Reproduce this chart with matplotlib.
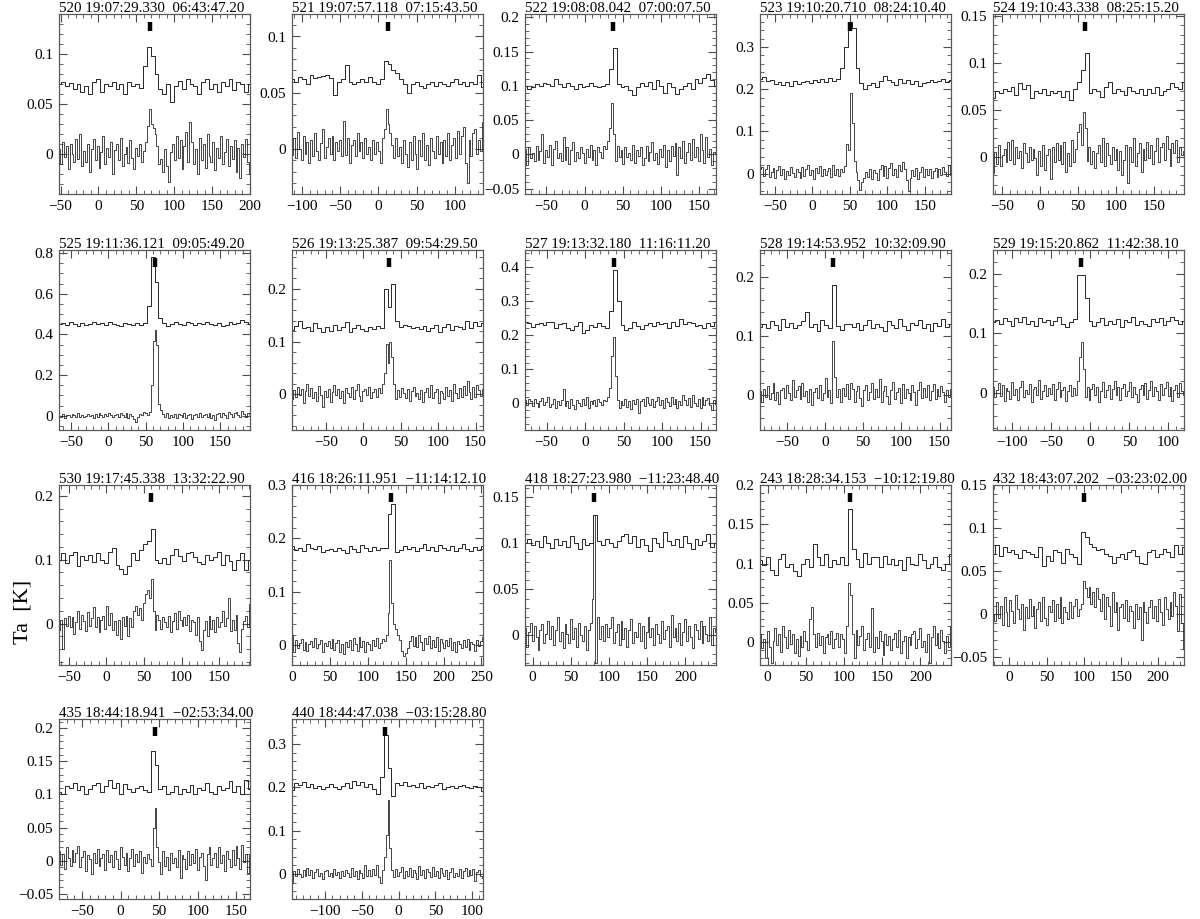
import numpy as np
import matplotlib
matplotlib.use('Agg')
import matplotlib.pyplot as plt
from matplotlib.ticker import MultipleLocator, AutoMinorLocator, FuncFormatter
import matplotlib.transforms as mtransforms

plt.rcParams['font.family'] = ['Liberation Serif', 'DejaVu Serif']

# panel titles (source, RA, Dec)
titles = ['520 19:07:29.330  06:43:47.20', '521 19:07:57.118  07:15:43.50',
          '522 19:08:08.042  07:00:07.50', '523 19:10:20.710  08:24:10.40',
          '524 19:10:43.338  08:25:15.20', '525 19:11:36.121  09:05:49.20',
          '526 19:13:25.387  09:54:29.50', '527 19:13:32.180  11:16:11.20',
          '528 19:14:53.952  10:32:09.90', '529 19:15:20.862  11:42:38.10',
          '530 19:17:45.338  13:32:22.90', '416 18:26:11.951  \u221211:14:12.10',
          '418 18:27:23.980  \u221211:23:48.40', '243 18:28:34.153  \u221210:12:19.80',
          '432 18:43:07.202  \u221203:23:02.00', '435 18:44:18.941  \u221202:53:34.00',
          '440 18:44:47.038  \u221203:15:28.80']

xlims = [(-52, 200), (-113, 137), (-78, 172), (-70, 185), (-62, 190),
         (-66, 190), (-95, 160), (-78, 170), (-85, 165), (-125, 120),
         (-63, 191), (0, 252), (-10, 240), (-10, 240), (-22, 235),
         (-80, 168), (-145, 115)]
ylims = [(-0.04, 0.14), (-0.04, 0.12), (-0.058, 0.205), (-0.048, 0.378), (-0.04, 0.152),
         (-0.07, 0.815), (-0.068, 0.274), (-0.078, 0.45), (-0.06, 0.245), (-0.063, 0.24),
         (-0.065, 0.217), (-0.037, 0.3), (-0.032, 0.163), (-0.029, 0.2), (-0.059, 0.15),
         (-0.058, 0.214), (-0.058, 0.358)]
ysteps = [0.05, 0.05, 0.05, 0.1, 0.05, 0.2, 0.1, 0.1, 0.1, 0.1,
          0.1, 0.1, 0.05, 0.05, 0.05, 0.05, 0.1]
marker_v = [68, 13, 37, 50, 60, 62, 35, 37, 10, -12, 60, 131, 80, 108, 100, 45, -18]

# lower spectra (fine resolution), mK
lower = [
"""5 -10 12 -3 8 -15 10 0 -8 15
-5 20 -12 3 -8 10 -18 5 15 -6
8 -14 2 18 -10 6 -3 12 -20 4
10 -6 16 -12 0 7 -9 14 -4 -15
6 -2 10 -8 3 12 28 45 30 26
20 8 -10 -5 -18 5 -12 -28 2 10
-6 18 -4 14 -15 8 22 -8 32 12
-10 5 -20 16 -6 10 -14 20 -2 -8
12 -16 6 -4 18 -10 2 15 -12 8
-5 14 -18 6 -24 10 -3 15 -8 -20""",
"""-5 10 -8 15 0 -10 12 -4 6 -12
8 -6 14 -2 -10 5 18 -8 2 10
-4 12 -10 6 -2 8 -6 25 -5 10
-12 4 8 -6 14 -2 6 -8 10 -4
2 -10 8 -4 6 -2 -12 10 18 36
22 14 4 -8 10 -6 2 -12 8 -4
-16 6 -10 12 -4 -18 8 -6 14 -10
4 -14 10 -2 -8 12 -4 6 -12 8
-6 14 -10 4 10 -8 16 -4 12 20
-12 -30 8 -6 14 18 -4 8 -2 24""",
"""8 -15 10 -5 2 -10 12 -8 5 30
-12 6 -4 14 -16 8 20 -6 2 -10
25 -8 10 -14 6 18 -10 4 -6 10
2 -12 8 -4 14 -8 6 -16 10 4
-6 12 8 20 38 75 30 -10 12 -4
6 -14 10 -4 2 -8 14 -12 6 -2
10 -16 -6 12 -10 4 18 -8 2 -14
8 -4 14 -18 6 -10 12 -2 16 -30
10 -6 20 -12 4 16 -8 22 -4 10
-10 30 6 -12 26 -4 8 -16 4 0""",
"""10 15 -5 12 20 -8 5 14 -10 8
18 -2 10 -12 6 -4 15 2 -8 12
4 -10 16 -6 10 20 -4 8 -12 14
2 18 -6 10 -2 6 14 -8 20 -4
12 -6 10 4 18 70 55 190 120 30
5 -15 -38 -20 -10 5 -8 10 -12 8
2 -14 12 20 -6 18 -10 14 25 -4
10 -8 20 6 28 12 -15 -40 -10 8
-6 14 -12 4 16 -8 10 -4 12 -10
6 14 -8 10 -2 16 4 -6 20 -2""",
"""-18 5 -8 12 -10 2 8 -6 15 -4
18 -8 10 -2 6 -12 14 4 -6 10
-4 8 -2 -20 6 -10 12 -14 2 8
-24 10 -6 14 -4 12 -8 16 -16 4
-10 18 -6 8 26 35 12 48 30 -5
10 -8 6 -12 4 12 -6 20 -10 14
2 -8 10 -4 8 -14 6 -20 -4 12
-28 10 -6 20 -10 4 14 -16 8 -4
16 -2 12 -8 6 20 -6 10 14 -4
22 8 -10 14 4 18 -6 10 2 6""",
"""0 -5 8 -10 4 6 -8 10 2 -6
12 -4 6 -8 0 10 -2 4 -10 8
-4 12 6 -6 10 -2 14 4 -8 6
10 -4 16 2 -6 12 -10 8 0 -14
-30 -8 10 4 18 12 6 20 150 370
420 350 60 30 10 -8 12 -10 6 -4
8 -12 10 4 -6 12 -10 2 8 -16
6 10 -4 14 -8 2 10 -6 16 -12
4 -20 8 12 -6 16 2 -10 18 8
-4 14 20 6 -8 24 10 -4 16 8""",
"""-10 8 -6 14 -2 10 -16 6 20 -4
12 -8 4 -12 16 -2 -24 6 -6 10
-14 4 18 -2 10 -8 6 -16 12 2
-6 14 -10 8 20 -4 -12 6 10 -2
14 -8 4 10 -6 12 2 20 40 95
60 100 70 20 -10 8 -6 12 2 -8
10 -12 6 14 -4 2 -10 8 -14 4
12 -6 18 -8 4 10 -16 6 2 -10
14 -4 8 -12 20 2 -8 12 -6 16
-2 26 4 -10 14 -6 18 8 -4 10""",
"""10 -4 12 6 -8 14 2 -10 8 16
-6 4 20 -10 -2 12 -14 8 -4 10
42 -8 6 -12 14 -4 -16 10 2 -8
14 -6 18 -12 6 -2 10 -8 14 4
-6 10 6 20 45 140 195 80 10 -14
8 -4 14 -10 6 -16 10 -2 12 -28
6 14 -8 18 2 -6 12 -10 8 20
-4 10 -12 16 4 -8 20 -2 12 -14
8 -6 26 10 -4 16 -10 24 2 -8
14 -12 20 -4 10 16 -6 -20 10 -2""",
"""6 -12 10 -4 14 -8 2 20 -10 4
-16 8 12 -6 16 2 -10 24 -4 8
14 -8 20 -2 6 -12 10 -18 4 12
-6 16 -10 2 28 -4 8 -14 90 30
-4 10 -12 12 -2 18 -8 20 10 -12
6 14 -6 -20 8 16 -10 4 20 -8
10 -4 26 -12 6 14 -2 -16 8 22
-8 4 12 -14 18 -6 10 2 -10 16
4 -18 8 22 -6 12 -4 16 -10 6
18 -8 10 -2 14 4 -12 8 -4 10""",
"""10 -8 4 16 -6 12 -14 8 2 -10
18 -4 6 -12 10 20 -8 4 -2 14
-16 6 10 -4 22 -10 2 12 -6 8
-2 14 -12 6 18 -8 4 10 -14 2
12 -6 8 -4 20 60 85 40 -8 10
-12 6 14 -4 10 -16 2 18 -8 4
12 -10 6 20 -4 10 -12 8 14 -6
2 18 -8 10 -2 -16 6 12 -4 16
-10 4 20 -6 10 2 -12 14 -4 8
18 -6 10 -14 4 12 -8 16 2 -4""",
"""-10 5 -40 8 -4 12 -6 10 -16 2
20 -8 14 4 -12 18 -4 8 26 -6
10 -14 6 12 -8 28 -2 16 -10 4
-18 6 -24 10 -4 12 -20 8 -6 20
28 14 24 6 32 46 52 40 70 20
-10 14 6 -8 10 2 -6 12 -14 4
16 -8 20 6 -4 10 -2 14 -12 6
2 -18 10 -28 -42 -10 4 -20 12 -8
6 -14 10 -6 2 20 -4 8 40 -12
6 -10 14 -30 -44 -8 4 12 -6 30""",
"""20 -12 10 -6 4 12 -8 6 -10 2
8 -4 14 -6 2 10 -12 4 -2 8
-6 12 -8 4 10 -12 2 -16 6 -4
10 -8 14 2 -10 16 -4 8 -12 6
2 -8 10 -2 14 -6 4 12 8 20
60 160 80 40 30 20 10 -10 -20 -14
-6 8 18 -2 16 -4 20 6 -8 14
2 18 -6 10 -4 16 -10 12 4 -6
10 -2 14 -8 6 -12 8 2 -6 10
-4 12 -8 6 2 -10 10 -2 8 16""",
"""8 -12 4 14 -6 10 -2 -16 6 12
-8 2 16 -4 10 -10 6 20 -6 4
-14 12 2 -8 18 -4 8 -12 14 0
-6 10 -16 6 14 40 130 -30 20 -4
10 -6 12 -2 8 20 -8 4 12 -10
16 -4 8 -12 6 18 -8 4 -2 14
-6 10 -14 4 20 -2 8 -10 12 2
-8 16 -4 6 10 -12 22 -2 8 -6
14 -10 4 18 -6 10 -2 -14 12 6
-4 16 -8 10 2 -6 20 -10 8 4""",
"""10 -8 4 -20 14 -6 -26 2 18 -4
10 -12 20 6 -8 16 -2 10 -14 4
-18 8 -6 14 2 -10 30 45 10 -6
12 -4 8 -14 6 10 -2 14 -8 4
12 -6 10 4 -14 20 75 60 10 -20
16 -4 8 20 -10 4 12 -6 44 -12
6 -8 14 2 -16 10 -4 8 -10 4
12 -6 16 -14 2 8 -20 6 -4 10
14 -8 4 18 -6 2 -12 10 -26 6
20 -4 12 -8 16 2 -14 8 -6 20""",
"""0 -8 14 -4 10 -12 20 2 -14 16
4 -10 22 6 -6 12 -18 8 -4 18
-2 10 -16 6 14 -8 20 -4 -12 10
2 16 -8 12 -4 20 -10 8 2 -6
14 -4 10 18 -2 6 12 38 30 20
32 12 26 8 30 18 4 24 -6 20
10 -14 26 2 14 -18 8 12 -4 16
-8 10 4 -16 12 -6 8 -30 14 2
-10 8 16 -4 10 -8 18 2 -12 20
6 -6 14 -2 26 10 -20 24 -10 -40""",
"""14 -6 10 -12 20 4 -8 16 -2 12
22 -10 6 14 -16 8 2 -20 12 -4
18 -8 4 10 -14 16 -2 8 -10 14
2 -12 20 6 -6 12 -16 4 18 -8
10 -2 14 -18 6 -4 10 2 -8 50
80 20 -2 -20 14 -8 6 -14 12 -4
4 -10 16 -26 8 2 -12 14 -6 10
-4 18 -14 6 12 -8 -30 10 20 -6
4 12 -10 20 -4 8 -16 14 2 -10
16 -6 22 4 -12 24 -2 10 -18 8""",
"""-20 6 -4 12 0 -8 10 -6 14 -2
8 -10 4 12 -6 2 -12 6 10 -4
2 -8 12 -2 4 -10 6 -6 10 2
-8 14 -4 6 -12 8 2 -10 20 -4
10 -6 12 -2 20 -8 -20 10 40 90
170 60 10 -8 12 -6 4 16 -10 6
-4 14 -8 10 2 -12 18 -2 8 -10
12 4 -8 16 -4 6 -10 14 2 -6
10 -12 4 14 -8 2 -4 12 -10 6
14 -6 8 -2 12 -16 4 10 -4 -10""",
]

# upper spectra (smoothed, shown with an offset), mK
upper = [
"""70 72 68 71 65 70 62 68 60 72
75 62 70 68 72 65 70 60 72 68
70 66 88 107 98 80 65 60 70 52
68 73 65 75 70 68 60 72 75 65
70 62 72 68 75 64 72 70 62 70""",
"""62 60 64 62 58 66 63 64 65 66
63 48 60 62 75 60 58 60 62 60
64 60 58 62 78 76 70 68 62 58
50 58 60 56 54 58 60 56 60 58
56 60 62 58 60 56 60 58 66 55""",
"""100 96 98 102 100 104 102 100 110 102
98 104 100 96 102 98 100 104 100 98
100 102 125 155 102 98 100 94 86 98
104 100 106 96 108 100 90 104 98 88
96 100 104 96 110 104 112 118 108 100""",
"""225 228 220 222 212 218 210 216 208 220
212 216 220 214 222 218 224 216 226 220
224 250 300 360 345 250 215 200 210 215
205 220 232 222 218 210 225 215 222 212
220 208 214 218 222 216 220 224 218 222""",
"""62 70 68 72 70 74 66 78 72 76
62 70 68 72 66 70 68 70 64 70
60 72 80 92 110 68 72 70 64 74
80 68 72 70 66 74 70 68 72 66
72 68 74 66 70 72 78 74 72 80""",
"""450 455 445 460 450 440 455 448 452 462
450 456 444 460 452 448 440 455 450 448
456 445 455 540 780 660 480 455 440 452
460 452 448 462 455 444 458 450 462 452
446 455 440 448 460 452 456 470 462 450""",
"""122 130 140 125 128 120 135 125 118 128
120 132 122 128 138 118 126 132 124 120
128 124 130 126 200 165 210 140 128 132
130 126 128 124 130 120 126 132 118 128
134 122 130 128 124 140 126 138 130 135""",
"""240 235 225 232 236 230 238 240 220 232
236 222 215 226 238 208 216 230 224 236
228 222 270 390 300 230 215 222 240 228
218 230 236 226 240 232 236 222 238 226
248 232 240 236 226 230 222 236 226 238""",
"""115 120 112 125 118 110 128 115 122 112
118 125 140 115 120 108 126 118 112 185
116 110 120 120 115 122 110 118 126 112
120 115 108 124 118 112 128 116 110 122
118 126 112 120 108 122 116 128 114 120""",
"""118 122 115 126 120 112 125 118 128 115
120 112 126 118 122 114 120 128 116 110
118 124 198 198 160 120 112 118 126 114
120 116 124 110 122 118 128 114 120 116
112 124 118 126 114 120 128 122 116 120""",
"""100 110 95 108 112 90 105 100 108 96
110 100 95 112 118 92 85 78 90 110
100 115 125 130 148 100 95 102 94 108
116 105 98 110 112 104 96 94 108 100
104 112 92 108 98 84 100 110 84 100""",
"""185 178 182 176 190 182 180 185 174 178
180 176 182 178 172 186 180 174 188 182
176 184 178 182 182 245 265 175 178 186
180 184 176 182 190 178 184 176 188 182
178 186 176 182 190 180 176 184 178 186""",
"""100 105 98 102 96 108 100 95 104 98
102 96 108 100 94 104 98 100 130 102
98 104 100 96 102 108 110 100 108 96
104 98 92 106 100 96 112 102 98 104
96 108 100 94 104 98 102 110 96 100""",
"""105 98 108 92 86 106 112 96 100 90
84 100 106 96 125 108 98 112 96 104
100 108 98 170 118 106 96 114 100 108
108 96 110 100 106 98 104 92 108 100
98 112 104 94 100 108 96 92 100 112""",
"""70 80 68 78 72 75 70 65 74 72
70 66 78 56 68 62 74 72 60 76
70 66 58 95 90 82 78 74 76 70
68 60 66 70 64 72 74 68 60 58
72 74 66 70 76 72 66 80 70 78""",
"""104 100 112 110 118 106 112 100 108 114
118 104 112 122 110 118 100 116 108 104
110 112 106 104 165 145 108 112 100 104
112 100 108 104 114 100 110 106 118 104
100 112 106 110 120 104 112 100 122 108""",
"""195 210 205 212 200 208 198 204 196 200
208 200 196 204 210 198 214 206 212 200
208 196 185 225 320 245 180 210 205 212
204 206 200 210 198 204 200 206 210 196
200 204 198 202 206 200 198 204 200 192""",
]

W, H = 1200, 919
fig = plt.figure(figsize=(12, 9.19), dpi=100)

lefts = [59, 292, 525, 760, 993]
tops = [14, 250, 485, 719]
aw, ah = 191, 180

def fmt(v, pos):
    s = '%g' % round(v, 4)
    return s.replace('-', '\u2212')

for i in range(len(titles)):
    r, c = divmod(i, 5)
    ax = fig.add_axes([lefts[c] / W, 1 - (tops[r] + ah) / H, aw / W, ah / H])
    x0, x1 = xlims[i]
    lo = np.array(lower[i].split(), float) / 1000
    up = np.array(upper[i].split(), float) / 1000
    v_lo = np.linspace(x0, x1, len(lo))
    v_up = np.linspace(x0, x1, len(up))
    ax.plot(v_lo, lo, drawstyle='steps-mid', color='0.15', lw=0.6)
    ax.plot(v_up, up, drawstyle='steps-mid', color='0.15', lw=0.7)
    trans = mtransforms.blended_transform_factory(ax.transData, ax.transAxes)
    ax.plot([marker_v[i]] * 2, [0.905, 0.955], transform=trans, color='k',
            lw=3.2, solid_capstyle='butt')
    ax.set_xlim(x0, x1)
    ax.set_ylim(*ylims[i])
    ax.xaxis.set_major_locator(MultipleLocator(50))
    ax.xaxis.set_minor_locator(MultipleLocator(10))
    ax.yaxis.set_major_locator(MultipleLocator(ysteps[i]))
    ax.yaxis.set_minor_locator(AutoMinorLocator())
    ax.xaxis.set_major_formatter(FuncFormatter(fmt))
    ax.yaxis.set_major_formatter(FuncFormatter(fmt))
    ax.tick_params(which='both', direction='in', top=True, right=True,
                   labelsize=11, color='0.3', pad=4)
    ax.tick_params(which='major', length=6)
    ax.tick_params(which='minor', length=3)
    for sp in ax.spines.values():
        sp.set_color('0.35')
        sp.set_linewidth(0.9)
    ax.text(0.0, 1.012, titles[i], transform=ax.transAxes, ha='left',
            va='baseline', fontsize=10.8)

fig.text(0.019, 0.334, 'Ta  [K]', rotation=90, ha='center', va='center', fontsize=16)

fig.savefig('out.png', dpi=100)
